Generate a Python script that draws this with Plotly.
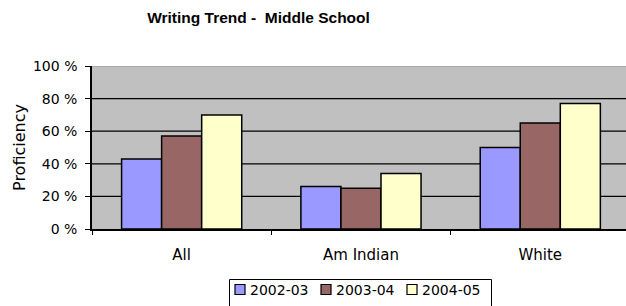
import plotly.graph_objects as go

categories = ["All", "Am Indian", "White"]
series_names = ["2002-03", "2003-04", "2004-05"]
values_2002_03 = [43, 26, 50]
values_2003_04 = [57, 25, 65]
values_2004_05 = [70, 34, 77]
colors = ["#9999FF", "#996666", "#FFFFCC"]
y_tickvals = [0, 20, 40, 60, 80, 100]
y_ticktext = ["0 %", "20 %", "40 %", "60 %", "80 %", "100 %"]
grid_values = [20, 40, 60, 80]

W, H = 626, 306
L, R, T, B = 92, 0, 66, 77
PW, PH = W - L - R, H - T - B


def px_x(px):
    return (px - L) / PW


def px_y(py):
    return (H - B - py) / PH


fig = go.Figure()
for name, vals, col in zip(series_names, [values_2002_03, values_2003_04, values_2004_05], colors):
    fig.add_trace(go.Bar(x=categories, y=vals, name=name, showlegend=False,
                         marker=dict(color=col, line=dict(color="black", width=1.5))))

for g in grid_values:
    fig.add_shape(type="line", xref="paper", yref="y", x0=0, x1=1, y0=g, y1=g,
                  line=dict(color="black", width=1.2), layer="below")
fig.add_shape(type="line", xref="paper", yref="y", x0=0, x1=1, y0=100, y1=100,
              line=dict(color="#909090", width=1), layer="below")

font_main = "DejaVu Sans"

# legend box (drawn as shapes + text)
fig.add_shape(type="rect", xref="paper", yref="paper",
              x0=px_x(229.5), x1=px_x(491.5), y0=px_y(279.5), y1=px_y(310),
              line=dict(color="black", width=1), fillcolor="white")
for i, (name, col) in enumerate(zip(series_names, colors)):
    sx = 235 + 86 * i
    fig.add_shape(type="rect", xref="paper", yref="paper",
                  x0=px_x(sx), x1=px_x(sx + 10), y0=px_y(284.5), y1=px_y(294.5),
                  line=dict(color="black", width=1.2), fillcolor=col)
    fig.add_annotation(text=name, xref="paper", yref="paper",
                       x=px_x(sx + 13), y=px_y(290), xanchor="left", yanchor="middle",
                       showarrow=False, font=dict(family=font_main, size=14, color="black"))

fig.update_layout(
    width=W, height=H,
    margin=dict(l=L, r=R, t=T, b=B, autoexpand=False),
    paper_bgcolor="white", plot_bgcolor="#C0C0C0",
    barmode="group", bargap=0.33, bargroupgap=0,
    title=dict(text="Writing Trend -  Middle School", x=258.5 / W, xanchor="center",
               y=1 - 18 / H, yanchor="middle",
               font=dict(family="Liberation Sans", size=15.5, color="black", weight="bold")),
    font=dict(family=font_main, size=14, color="black"),
    showlegend=False,
    xaxis=dict(range=[-0.5, 2.478], showline=True, linecolor="black", linewidth=1.5,
               ticks="outside", tickson="boundaries", ticklen=4, tickcolor="black",
               showgrid=False, automargin=False, ticklabelstandoff=11,
               tickfont=dict(family=font_main, size=15)),
    yaxis=dict(range=[0, 100], tickvals=y_tickvals, ticktext=y_ticktext,
               showline=True, linecolor="black", linewidth=1.5,
               ticks="outside", ticklen=5, tickcolor="black", showgrid=False,
               automargin=False, ticklabelstandoff=5,
               zeroline=False, title=dict(text="Proficiency", standoff=3,
                                          font=dict(family=font_main, size=16)),
               tickfont=dict(family=font_main, size=14)),
)
fig.write_html("out.html", config={"displayModeBar": False},
               post_script="document.body.style.margin='0px';document.body.style.overflow='hidden';")
